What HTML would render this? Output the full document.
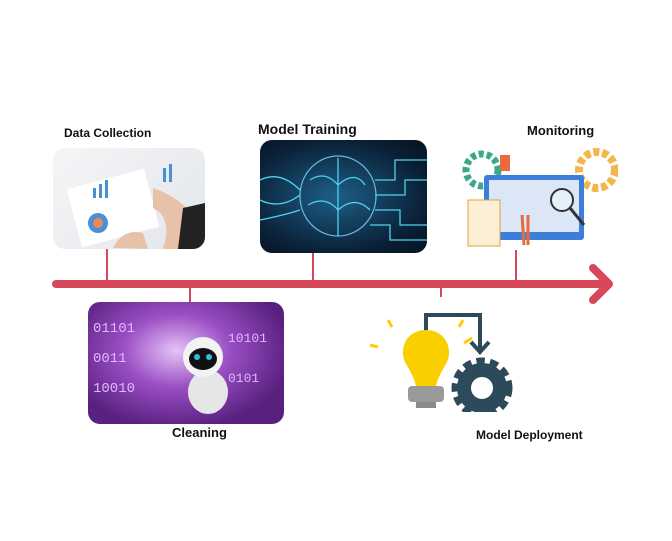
<!DOCTYPE html>
<html><head><style>
body{margin:0;width:672px;height:541px;background:#fff;position:relative;overflow:hidden;font-family:"Liberation Sans",sans-serif}
.l{position:absolute;font-weight:bold;color:#111;white-space:nowrap}
.img{position:absolute;border-radius:12px;overflow:hidden}
.v{position:absolute;width:2px;background:#d7495a}
</style></head><body>
<div class="l" style="left:64px;top:126px;font-size:12px">Data Collection</div>
<div class="l" style="left:258px;top:121px;font-size:14px">Model Training</div>
<div class="l" style="left:527px;top:123px;font-size:13px">Monitoring</div>
<div class="l" style="left:172px;top:425px;font-size:13px">Cleaning</div>
<div class="l" style="left:476px;top:428px;font-size:12px">Model Deployment</div>

<div class="v" style="left:106px;top:248px;height:37px"></div>
<div class="v" style="left:312px;top:252px;height:33px"></div>
<div class="v" style="left:515px;top:250px;height:35px"></div>
<div class="v" style="left:189px;top:285px;height:18px"></div>
<div class="v" style="left:440px;top:285px;height:12px"></div>

<svg style="position:absolute;left:0;top:0" width="672" height="541">
<line x1="56" y1="284" x2="606" y2="284" stroke="#d7495a" stroke-width="8" stroke-linecap="round"/>
<polyline points="593,268 609,284 593,300" fill="none" stroke="#d7495a" stroke-width="8" stroke-linecap="round" stroke-linejoin="round"/>
</svg>

<div class="img" style="left:53px;top:148px;width:152px;height:101px;background:linear-gradient(135deg,#f4f5f7,#e3e6ea)">
<svg width="152" height="101"><rect x="20" y="30" width="80" height="60" fill="#fff" transform="rotate(-15 60 60)"/>
<circle cx="45" cy="75" r="10" fill="#4a90d9"/><circle cx="45" cy="75" r="5" fill="#e85"/>
<g fill="#4a8fd0"><rect x="40" y="40" width="3" height="10"/><rect x="46" y="36" width="3" height="14"/><rect x="52" y="32" width="3" height="18"/><rect x="110" y="20" width="3" height="14"/><rect x="116" y="16" width="3" height="18"/></g>
<path d="M100 40 Q130 50 152 80 L152 101 L110 101 Q120 70 100 60Z" fill="#e8c2a8"/>
<path d="M130 60 L152 55 L152 101 L125 101Z" fill="#222"/>
<path d="M60 100 Q70 80 90 85 L95 101Z" fill="#e8c2a8"/></svg></div>

<div class="img" style="left:260px;top:140px;width:167px;height:113px;background:radial-gradient(ellipse at 45% 50%,#1d5f87,#0a2036 70%,#06121f)">
<svg width="167" height="113" fill="none" stroke="#4fd2f0" stroke-width="1.3">
<ellipse cx="78" cy="56" rx="38" ry="40" stroke="#6ab8dd"/>
<path d="M78 18 V96 M50 40 Q65 30 78 45 Q95 30 105 45 M48 65 Q65 55 78 70 Q95 55 110 70"/>
<path d="M0 40 Q20 30 40 50 M0 60 Q20 70 40 55 M0 80 Q25 75 40 70"/>
<path d="M115 40 H135 V20 H167 M115 55 H145 V40 H167 M115 70 H140 V85 H167 M110 85 H130 V100 H167"/>
</svg></div>

<div class="img" style="left:462px;top:145px;width:156px;height:105px;background:#fff">
<svg width="156" height="105">
<circle cx="20" cy="25" r="16" fill="none" stroke="#3aa88a" stroke-width="7" stroke-dasharray="5 3"/>
<circle cx="135" cy="25" r="18" fill="none" stroke="#f3b64a" stroke-width="8" stroke-dasharray="6 3"/>
<rect x="22" y="30" width="100" height="65" rx="3" fill="#3d7fd8"/>
<rect x="27" y="35" width="90" height="52" fill="#dbe7f7"/>
<rect x="6" y="55" width="32" height="46" fill="#fbefd5" stroke="#e0a040"/>
<circle cx="100" cy="55" r="11" fill="#e6f0fa" stroke="#333" stroke-width="2"/>
<line x1="108" y1="63" x2="122" y2="80" stroke="#333" stroke-width="3"/>
<rect x="38" y="10" width="10" height="16" fill="#e96a3c"/>
<path d="M60 70 L62 100 M66 70 L66 100" stroke="#e96a3c" stroke-width="3"/>
</svg></div>

<div class="img" style="left:88px;top:302px;width:196px;height:122px;background:radial-gradient(ellipse at 45% 40%,#e6c3f7,#9a4fc4 35%,#5a2080 75%)">
<svg width="196" height="122"><text x="5" y="30" fill="#e2b6ff" font-family="Liberation Mono" font-size="14">01101</text><text x="5" y="60" fill="#e2b6ff" font-family="Liberation Mono" font-size="14">0011</text><text x="5" y="90" fill="#e2b6ff" font-family="Liberation Mono" font-size="14">10010</text><text x="140" y="40" fill="#e2b6ff" font-family="Liberation Mono" font-size="13">10101</text><text x="140" y="80" fill="#e2b6ff" font-family="Liberation Mono" font-size="13">0101</text>
<ellipse cx="120" cy="90" rx="20" ry="22" fill="#e6e6e6"/>
<circle cx="115" cy="55" r="20" fill="#f2f2f2"/>
<ellipse cx="115" cy="57" rx="14" ry="11" fill="#111"/>
<circle cx="109" cy="55" r="3" fill="#3bd"/><circle cx="121" cy="55" r="3" fill="#3bd"/></svg></div>

<div class="img" style="left:368px;top:300px;width:147px;height:112px;background:#fff;border-radius:0">
<svg width="147" height="112">
<path d="M58 38 V15 H112 V50" fill="none" stroke="#2d4a5a" stroke-width="4"/>
<polyline points="103,42 112,52 121,42" fill="none" stroke="#2d4a5a" stroke-width="4"/>
<path d="M58 30 C38 30 30 50 38 64 C44 74 46 78 48 86 H68 C70 78 72 74 78 64 C86 50 78 30 58 30Z" fill="#f9cf00"/>
<rect x="40" y="86" width="36" height="16" rx="4" fill="#9a9a9a"/>
<rect x="48" y="102" width="20" height="6" fill="#8a8a8a"/>
<g stroke="#f9cf00" stroke-width="3"><line x1="2" y1="45" x2="10" y2="47"/><line x1="20" y1="20" x2="24" y2="27"/><line x1="95" y1="20" x2="91" y2="27"/><line x1="104" y1="38" x2="96" y2="43"/></g>
<circle cx="114" cy="88" r="26" fill="none" stroke="#2d4a5a" stroke-width="9" stroke-dasharray="8 5"/>
<circle cx="114" cy="88" r="18" fill="none" stroke="#2d4a5a" stroke-width="14"/>
</svg></div>
</body></html>
